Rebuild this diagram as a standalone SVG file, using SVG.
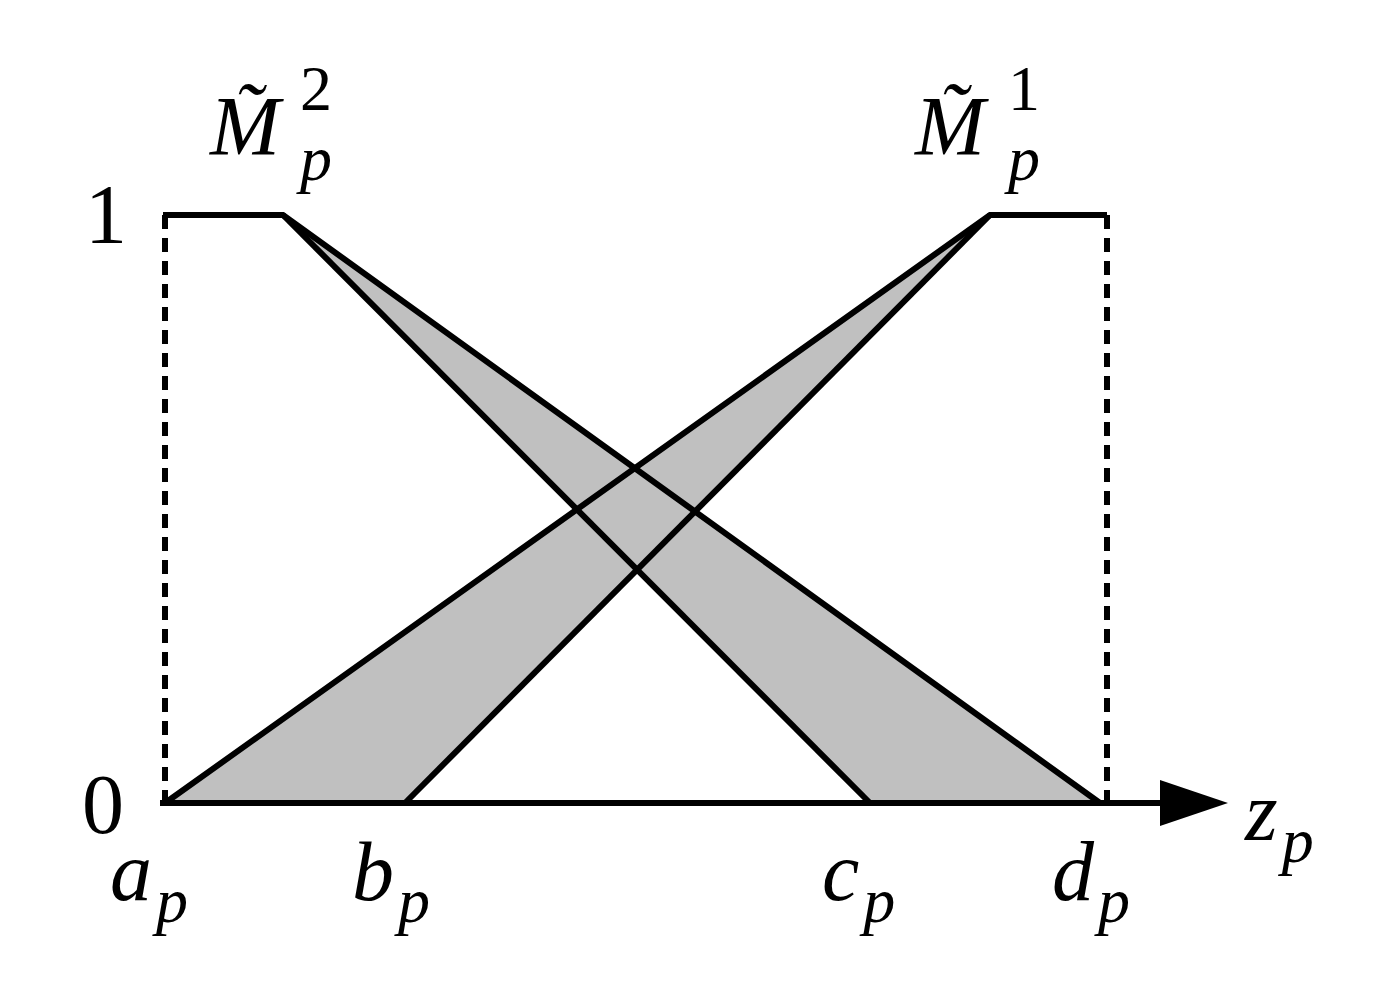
<svg xmlns="http://www.w3.org/2000/svg" width="1400" height="988" viewBox="0 0 1400 988">
<style>
.l{stroke:#000;stroke-width:6;fill:none}
.d{stroke:#000;stroke-width:6;stroke-dasharray:14,9;fill:none}
.g{fill:#c0c0c0;stroke:none}
text{font-family:"Liberation Serif",serif;font-size:84px;fill:#000}
.i{font-style:italic}
.s{font-size:64px}
</style>
<rect width="1400" height="988" fill="#fff"/>
<g id="bands">
<polygon class="g" points="283,215 1100,803 870,803"/>
<polygon class="g" points="990,215 165,803 405,803"/>
</g>
<g id="connectors">
<line class="d" x1="165" y1="215" x2="165" y2="803"/>
<line class="d" x1="1107" y1="215" x2="1107" y2="803"/>
<polyline class="l" points="163,215 283,215 1100,803"/>
<line class="l" x1="283" y1="215" x2="870" y2="803"/>
<polyline class="l" points="1107,215 990,215 165,803"/>
<line class="l" x1="990" y1="215" x2="405" y2="803"/>
<line class="l" x1="160" y1="803" x2="1170" y2="803"/>
<polygon points="1160,780 1228,803 1160,826" fill="#000"/>
</g>
<g id="labels">
<text x="85" y="243">1</text>
<text x="82" y="833">0</text>
<text class="i" x="110" y="900">a<tspan class="s" dx="4" dy="22">p</tspan></text>
<text class="i" x="352" y="900">b<tspan class="s" dx="4" dy="22">p</tspan></text>
<text class="i" x="822" y="900">c<tspan class="s" dx="4" dy="22">p</tspan></text>
<text class="i" x="1052" y="900">d<tspan class="s" dx="4" dy="22">p</tspan></text>
<text class="i" x="1245" y="840">z<tspan class="s" dx="4" dy="22">p</tspan></text>
<text class="i" x="210" y="155">M̃</text><text class="s" x="300" y="110">2</text><text class="i s" x="300" y="180">p</text>
<text class="i" x="915" y="155">M̃</text><text class="s" x="1008" y="110">1</text><text class="i s" x="1008" y="180">p</text>
</g>
</svg>
